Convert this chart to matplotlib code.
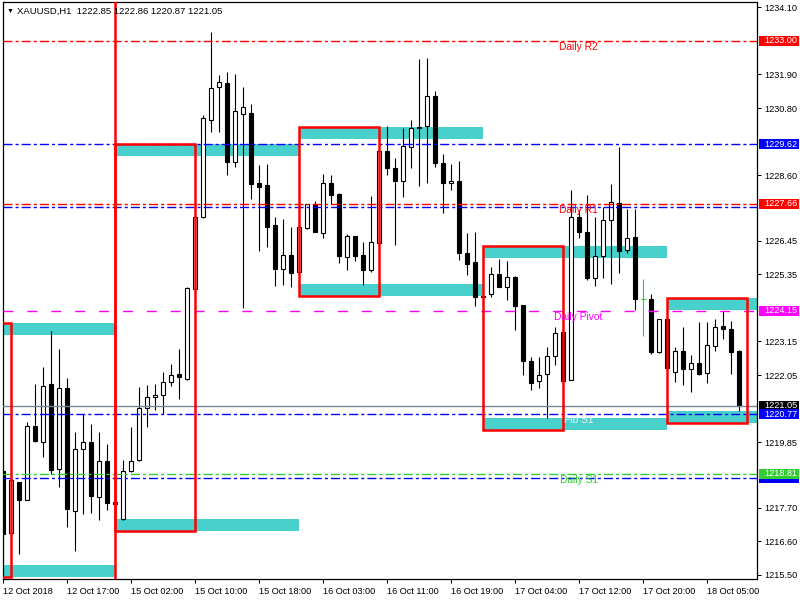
import numpy as np
import matplotlib.pyplot as plt
import matplotlib.transforms as mtransforms
from matplotlib.patches import Rectangle

plt.rcParams['font.family'] = ['Liberation Sans', 'DejaVu Sans']

# XAUUSD H1 candles (open, high, low, close)
opens = [1218.91, 1216.86, 1218.54, 1217.97, 1220.38, 1219.87, 1221.75, 1218.96, 1221.64, 1217.58,
         1219.64, 1219.87, 1218.04, 1219.22, 1217.86, 1217.32, 1218.89, 1219.26, 1220.97, 1221.32,
         1221.41, 1221.81, 1222.08, 1221.93, 1224.86, 1227.22, 1230.40, 1231.48, 1231.61, 1229.02,
         1230.59, 1230.63, 1228.34, 1228.28, 1226.97, 1225.52, 1225.97, 1225.42, 1226.86, 1227.65,
         1226.71, 1228.33, 1227.98, 1225.91, 1226.60, 1225.98, 1225.49, 1226.39, 1229.39, 1228.85,
         1228.42, 1229.51, 1230.17, 1230.21, 1231.18, 1228.99, 1228.33, 1228.40, 1226.04, 1225.75,
         1224.62, 1224.70, 1225.35, 1224.94, 1225.27, 1224.35, 1222.52, 1221.85, 1222.07, 1222.69,
         1223.45, 1221.89, 1227.22, 1226.73, 1225.24, 1225.94, 1227.12, 1227.69, 1226.15, 1226.57,
         1224.53, 1224.53, 1222.81, 1223.88, 1222.14, 1222.84, 1222.26, 1222.43, 1222.11, 1222.99,
         1223.66, 1223.55, 1222.85]
highs = [1219.05, 1218.65, 1218.56, 1220.51, 1221.75, 1222.30, 1223.49, 1222.90, 1221.95, 1220.18,
         1220.76, 1220.44, 1220.18, 1219.79, 1217.87, 1219.28, 1220.35, 1221.66, 1221.72, 1221.77,
         1222.15, 1222.41, 1222.90, 1224.94, 1227.25, 1230.57, 1233.30, 1231.88, 1231.97, 1231.92,
         1231.48, 1230.93, 1228.93, 1228.97, 1227.22, 1227.17, 1226.89, 1226.93, 1227.66, 1227.75,
         1228.64, 1228.60, 1228.00, 1226.67, 1226.62, 1226.41, 1227.92, 1229.40, 1230.21, 1229.17,
         1230.13, 1230.41, 1232.41, 1232.44, 1231.35, 1229.28, 1228.96, 1229.06, 1226.71, 1226.74,
         1224.63, 1225.60, 1225.85, 1225.80, 1225.28, 1224.36, 1222.63, 1222.63, 1222.96, 1223.61,
         1223.50, 1228.13, 1227.46, 1227.95, 1227.22, 1227.57, 1228.31, 1229.51, 1227.48, 1227.50,
         1225.19, 1224.70, 1223.89, 1223.90, 1222.96, 1223.61, 1222.70, 1223.80, 1223.80, 1223.88,
         1224.16, 1223.81, 1222.86]
lows = [1215.88, 1216.80, 1216.20, 1217.95, 1219.87, 1219.37, 1218.80, 1218.37, 1217.06, 1216.29,
        1217.51, 1217.54, 1217.30, 1217.62, 1217.83, 1217.31, 1218.88, 1219.24, 1220.35, 1220.90,
        1220.79, 1221.69, 1221.28, 1221.88, 1224.80, 1227.20, 1230.03, 1230.00, 1228.62, 1228.86,
        1224.24, 1227.81, 1226.13, 1226.26, 1224.98, 1225.00, 1224.95, 1225.40, 1226.84, 1226.74,
        1226.55, 1227.65, 1225.71, 1225.49, 1225.80, 1225.00, 1225.44, 1226.38, 1228.60, 1226.31,
        1227.89, 1228.84, 1228.25, 1228.35, 1228.86, 1227.37, 1228.11, 1225.82, 1225.33, 1224.31,
        1224.59, 1224.62, 1224.94, 1224.51, 1223.53, 1222.05, 1221.56, 1221.64, 1220.63, 1222.37,
        1221.80, 1221.88, 1226.53, 1225.16, 1224.98, 1225.22, 1225.03, 1225.38, 1226.04, 1224.18,
        1223.33, 1222.73, 1222.76, 1222.28, 1221.83, 1221.74, 1221.50, 1222.04, 1221.80, 1222.84,
        1223.22, 1222.10, 1220.87]
closes = [1216.83, 1218.61, 1217.97, 1220.38, 1219.90, 1221.69, 1218.93, 1221.64, 1217.65, 1219.64,
          1219.84, 1218.10, 1219.22, 1217.86, 1217.84, 1218.89, 1219.22, 1220.97, 1221.32, 1221.41,
          1221.81, 1222.04, 1221.97, 1224.90, 1227.22, 1230.46, 1231.45, 1231.66, 1229.02, 1230.69,
          1230.82, 1228.32, 1228.22, 1226.91, 1225.52, 1225.97, 1225.38, 1226.91, 1227.64, 1226.75,
          1228.33, 1227.96, 1225.96, 1226.60, 1225.96, 1225.49, 1226.40, 1229.39, 1228.84, 1228.42,
          1229.54, 1230.13, 1230.13, 1231.18, 1228.99, 1228.33, 1228.40, 1226.06, 1225.70, 1224.62,
          1224.60, 1225.35, 1224.94, 1225.27, 1224.32, 1222.52, 1221.80, 1222.04, 1222.69, 1223.42,
          1221.86, 1227.22, 1226.73, 1225.24, 1225.94, 1227.12, 1227.72, 1226.12, 1226.53, 1224.53,
          1224.53, 1222.81, 1223.88, 1222.29, 1222.84, 1222.26, 1222.43, 1222.09, 1223.02, 1223.64,
          1223.55, 1222.81, 1221.05]

# time axis labels (bar index, text)
date_pos = [0, 8, 16, 24, 32, 40, 48, 56, 64, 72, 80, 88]
date_labels = ['12 Oct 2018', '12 Oct 17:00', '15 Oct 02:00', '15 Oct 10:00', '15 Oct 18:00',
               '16 Oct 03:00', '16 Oct 11:00', '16 Oct 19:00', '17 Oct 04:00', '17 Oct 12:00',
               '17 Oct 20:00', '18 Oct 05:00']
price_ticks = [1234.10, 1231.90, 1230.80, 1228.60, 1226.45, 1225.35, 1223.15, 1222.05,
               1219.85, 1217.70, 1216.60, 1215.50]

# session boxes (red) and their supply/demand bands (turquoise)
box_start = [-9, 14, 37, 60, 83]
box_end = [1, 24, 47, 70, 93]
box_high = [1223.76, 1229.62, 1230.18, 1226.28, 1224.57]
box_low = [1215.43, 1216.94, 1224.64, 1220.25, 1220.48]
band_len = 23
band_depth = 0.39

# horizontal levels
level_price = [1233.00, 1229.62, 1227.56, 1227.66, 1224.15, 1221.05, 1220.77, 1218.67, 1218.81]
level_color = ['#FF0000', '#0000FF', '#0000FF', '#FF0000', '#FF00FF', '#778899', '#0000FF', '#0000FF', '#32CD32']
level_name = ['Daily R2', '', '', 'Daily R1', 'Daily Pivot', '', 'Fib S1', '', 'Daily S1']
level_text_color = ['#FF0000', '', '', '#FF0000', '#FF00FF', '', '#F0F0F0', '', '#32CD32']
# price tag on the axis: colour, and whether its number shows (hidden ones sit under another tag)
tag_color = ['#FF0000', '#0000FF', None, '#FF0000', '#FF00FF', '#000000', '#0000FF', '#0000FF', '#32CD32']
tag_text = [True, True, False, True, True, True, True, False, True]

dashdot = (0, (6.5, 2.2, 2.2, 2.2))
dashed = (0, (7.2, 10))

fig = plt.figure(figsize=(8, 6), dpi=100)
ax = fig.add_axes([2.5 / 800, 20.7 / 600, 754.5 / 800, 577 / 600])
ax.set_xlim(-0.1, 94.2)
ax.set_ylim(1215.357, 1234.265)

x = np.arange(len(opens))
o = np.array(opens)
h = np.array(highs)
l = np.array(lows)
c = np.array(closes)

# bands
for s, hi, lo in zip(box_start, box_high, box_low):
    ax.add_patch(Rectangle((s, hi - band_depth), band_len, band_depth, fc='#48D1CC', ec='none', zorder=1))
    ax.add_patch(Rectangle((s, lo), band_len, band_depth, fc='#48D1CC', ec='none', zorder=1))

# candles
doji = o == c
wick_col = np.where(doji, '#32CD32', 'black')
ax.vlines(x, l, h, colors=wick_col, lw=0.8, zorder=3)
body = ~doji
up = c > o
ax.bar(x[body], np.maximum(np.abs(c - o), 0.04)[body], bottom=np.minimum(o, c)[body], width=0.5,
       color=np.where(up, 'white', 'black')[body], edgecolor='black', lw=0.8, zorder=3.1)
ax.hlines(o[doji], x[doji] - 0.3, x[doji] + 0.3, colors='#32CD32', lw=0.8, zorder=3.1)

# levels
for p, col, name, tcol in zip(level_price, level_color, level_name, level_text_color):
    if col == '#778899':
        ls = '-'
    elif col == '#FF00FF':
        ls = dashed
    else:
        ls = dashdot
    ax.axhline(p, color=col, lw=1.0, ls=ls, zorder=3.5)
    if name:
        ax.text(71.9, p - 0.03, name, color=tcol, ha='center', va='top', fontsize=7.4, zorder=5)

# red boxes
for s, e, hi, lo in zip(box_start, box_end, box_high, box_low):
    ax.add_patch(Rectangle((s, lo), e - s, hi - lo, fill=False, ec='#FF0000', lw=1.8, zorder=4))
ax.axvline(14, color='#FF0000', lw=1.8, zorder=4)

# price axis
ax.yaxis.tick_right()
ax.set_yticks(price_ticks)
ax.set_yticklabels([f'{v:.2f}' for v in price_ticks])
ax.tick_params(axis='y', length=3, width=0.75, pad=2.5, labelsize=6.6)
ax.set_xticks(date_pos)
ax.set_xticklabels(date_labels)
plt.setp(ax.get_xticklabels(), ha='left')
ax.tick_params(axis='x', length=3, width=0.75, pad=2.5, labelsize=6.6)
for sp in ax.spines.values():
    sp.set_linewidth(0.9)

trans = mtransforms.blended_transform_factory(ax.transAxes, ax.transData)
for p, col, show in zip(level_price, tag_color, tag_text):
    if col is None:
        continue
    ax.add_patch(Rectangle((1.003, p - 0.155), 0.0523, 0.31, transform=trans, fc=col, ec='none',
                           clip_on=False, zorder=6))
    if show:
        ax.text(1.0093, p, f'{p:.2f}', transform=trans, color='white', va='center', fontsize=6.6,
                clip_on=False, zorder=7)

fig.text(7 / 800, 1 - 11 / 600, '▼', fontsize=5, va='center')
fig.text(17 / 800, 1 - 11 / 600, 'XAUUSD,H1  1222.85 1222.86 1220.87 1221.05', fontsize=6.8, va='center')

fig.savefig('out.png', dpi=100)
